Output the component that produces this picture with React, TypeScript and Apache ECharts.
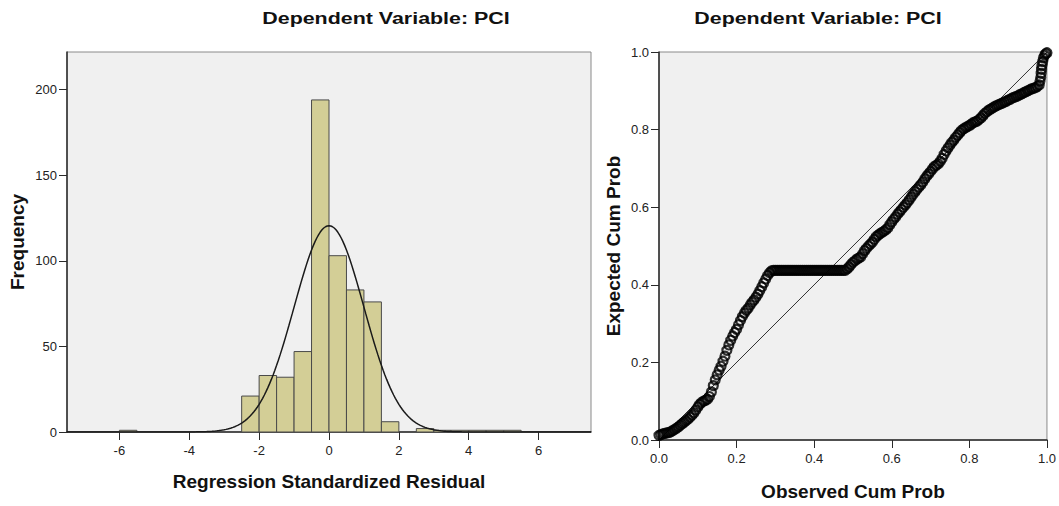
import React, { useEffect, useRef } from "react";
import * as echarts from "echarts";

// ---------- Histogram data ----------
const binStarts = [-6, -2.5, -2, -1.5, -1, -0.5, 0, 0.5, 1, 1.5, 2.5, 3, 3.5, 4, 4.5, 5];
const binCounts = [1, 21, 33, 32, 47, 194, 103, 83, 76, 6, 2, 1, 1, 1, 1, 1];
const binWidth = 0.5;
const normalMean = 0;
const normalStdDev = 0.998;
const normalN = 603;
const histXTicks = [-6, -4, -2, 0, 2, 4, 6];
const histYTicks = [0, 50, 100, 150, 200];

// ---------- P-P plot data: [observed cum prob, expected cum prob] ----------
const ppPoints: [number, number][] = [
  [0.0, 0.012], [0.005, 0.014], [0.01, 0.016], [0.015, 0.017], [0.02, 0.018],
  [0.025, 0.019], [0.03, 0.021], [0.035, 0.024], [0.04, 0.027], [0.045, 0.03],
  [0.05, 0.034], [0.055, 0.038], [0.06, 0.042], [0.065, 0.046], [0.07, 0.05],
  [0.075, 0.054], [0.08, 0.059], [0.085, 0.064], [0.09, 0.07], [0.095, 0.077],
  [0.1, 0.085], [0.105, 0.092], [0.11, 0.097], [0.115, 0.1], [0.12, 0.102],
  [0.125, 0.105], [0.13, 0.112], [0.135, 0.124], [0.14, 0.14], [0.145, 0.155],
  [0.15, 0.168], [0.155, 0.18], [0.16, 0.19], [0.165, 0.203], [0.17, 0.216],
  [0.175, 0.231], [0.18, 0.245], [0.185, 0.257], [0.19, 0.268], [0.195, 0.277],
  [0.2, 0.285], [0.205, 0.297], [0.21, 0.308], [0.215, 0.318], [0.22, 0.327],
  [0.225, 0.334], [0.23, 0.34], [0.235, 0.348], [0.24, 0.355], [0.245, 0.361],
  [0.25, 0.368], [0.255, 0.376], [0.26, 0.385], [0.265, 0.395], [0.27, 0.405],
  [0.275, 0.415], [0.28, 0.424], [0.285, 0.431], [0.29, 0.436], [0.295, 0.437],
  [0.3, 0.437], [0.305, 0.437], [0.31, 0.437], [0.315, 0.437], [0.32, 0.437],
  [0.325, 0.437], [0.33, 0.437], [0.335, 0.437], [0.34, 0.437], [0.345, 0.437],
  [0.35, 0.437], [0.355, 0.437], [0.36, 0.437], [0.365, 0.437], [0.37, 0.437],
  [0.375, 0.437], [0.38, 0.437], [0.385, 0.437], [0.39, 0.437], [0.395, 0.437],
  [0.4, 0.437], [0.405, 0.437], [0.41, 0.437], [0.415, 0.437], [0.42, 0.437],
  [0.425, 0.437], [0.43, 0.437], [0.435, 0.437], [0.44, 0.437], [0.445, 0.437],
  [0.45, 0.437], [0.455, 0.437], [0.46, 0.437], [0.465, 0.437], [0.47, 0.437],
  [0.475, 0.437], [0.48, 0.437], [0.485, 0.441], [0.49, 0.446], [0.495, 0.452],
  [0.5, 0.458], [0.505, 0.462], [0.51, 0.466], [0.515, 0.469], [0.52, 0.472],
  [0.525, 0.48], [0.53, 0.488], [0.535, 0.494], [0.54, 0.5], [0.545, 0.505],
  [0.55, 0.51], [0.555, 0.517], [0.56, 0.524], [0.565, 0.528], [0.57, 0.532],
  [0.575, 0.535], [0.58, 0.538], [0.585, 0.542], [0.59, 0.547], [0.595, 0.555],
  [0.6, 0.562], [0.605, 0.569], [0.61, 0.575], [0.615, 0.582], [0.62, 0.588],
  [0.625, 0.594], [0.63, 0.6], [0.635, 0.606], [0.64, 0.612], [0.645, 0.619],
  [0.65, 0.626], [0.655, 0.633], [0.66, 0.64], [0.665, 0.646], [0.67, 0.652],
  [0.675, 0.658], [0.68, 0.665], [0.685, 0.673], [0.69, 0.68], [0.695, 0.686],
  [0.7, 0.692], [0.705, 0.699], [0.71, 0.705], [0.715, 0.708], [0.72, 0.712],
  [0.725, 0.718], [0.73, 0.726], [0.735, 0.736], [0.74, 0.745], [0.745, 0.753],
  [0.75, 0.76], [0.755, 0.767], [0.76, 0.773], [0.765, 0.78], [0.77, 0.786],
  [0.775, 0.792], [0.78, 0.798], [0.785, 0.802], [0.79, 0.805], [0.795, 0.808],
  [0.8, 0.81], [0.805, 0.814], [0.81, 0.818], [0.815, 0.82], [0.82, 0.822],
  [0.825, 0.826], [0.83, 0.83], [0.835, 0.836], [0.84, 0.842], [0.845, 0.846],
  [0.85, 0.85], [0.855, 0.853], [0.86, 0.856], [0.865, 0.859], [0.87, 0.862],
  [0.875, 0.864], [0.88, 0.866], [0.885, 0.868], [0.89, 0.871], [0.895, 0.873],
  [0.9, 0.876], [0.905, 0.878], [0.91, 0.881], [0.915, 0.883], [0.92, 0.885],
  [0.925, 0.887], [0.93, 0.89], [0.935, 0.892], [0.94, 0.895], [0.945, 0.897],
  [0.95, 0.9], [0.955, 0.902], [0.96, 0.905], [0.965, 0.906], [0.97, 0.908],
  [0.975, 0.911], [0.98, 0.915], [0.982, 0.925], [0.984, 0.935], [0.985, 0.945],
  [0.986, 0.955], [0.987, 0.965], [0.989, 0.975], [0.991, 0.985], [0.994, 0.992],
  [0.997, 0.996], [1.0, 0.998],
];
const ppDiagonal: [number, number][] = [[0, 0], [1, 1]];

const titleText = "Dependent Variable: PCI";
const FONT = "'Liberation Sans', Arial, sans-serif";

export default function App() {
  const ref = useRef<HTMLDivElement>(null);

  useEffect(() => {
    if (!ref.current) return;
    const chart = echarts.init(ref.current, null, { renderer: "svg" });

    const histData = binStarts.map((s, i) => [s, s + binWidth, binCounts[i]]);

    // fitted normal curve overlay: N * binWidth * pdf(x)
    const curve: number[][] = [];
    for (let x = -7.5; x <= 7.5001; x += 0.05) {
      const z = (x - normalMean) / normalStdDev;
      const y = (normalN * binWidth) / (normalStdDev * Math.sqrt(2 * Math.PI)) * Math.exp(-0.5 * z * z);
      curve.push([x, y]);
    }

    const labelStyle = { color: "#222", fontSize: 13, fontFamily: FONT };
    const nameStyle = { color: "#111", fontSize: 19, fontWeight: "bold", fontFamily: FONT };
    const axisLine = { show: true, onZero: false, lineStyle: { color: "#2a2a2a", width: 1.5 } };

    const option: any = {
      animation: false,
      backgroundColor: "#ffffff",
      graphic: [
        {
          type: "text",
          x: 386,
          y: 18,
          scaleX: 1.26,
          style: {
            text: titleText, fill: "#111", font: `bold 17px ${FONT}`,
            align: "center", verticalAlign: "middle",
          },
        },
        {
          type: "text",
          x: 818,
          y: 18,
          scaleX: 1.26,
          style: {
            text: titleText, fill: "#111", font: `bold 17px ${FONT}`,
            align: "center", verticalAlign: "middle",
          },
        },
      ],
      grid: [
        {
          left: 67, top: 52, width: 524, height: 380,
          show: true, backgroundColor: "#f0f0f0", borderColor: "#8a8a8a", borderWidth: 1,
        },
        {
          left: 659, top: 52, width: 392, height: 392,
          show: true, backgroundColor: "#f0f0f0", borderColor: "#8a8a8a", borderWidth: 1,
        },
      ],
      xAxis: [
        {
          type: "value", gridIndex: 0, min: -7.5, max: 7.5,
          axisLine,
          axisTick: { show: true, length: 8, customValues: histXTicks, lineStyle: { color: "#2a2a2a" } },
          axisLabel: { ...labelStyle, margin: 12, customValues: histXTicks },
          splitLine: { show: false },
          name: "Regression Standardized Residual",
          nameLocation: "middle", nameGap: 40, nameTextStyle: nameStyle,
        },
        {
          type: "value", gridIndex: 1, min: 0, max: 1, interval: 0.2,
          axisLine,
          axisTick: { show: true, length: 8, lineStyle: { color: "#2a2a2a" } },
          axisLabel: { ...labelStyle, margin: 12, formatter: (v: number) => v.toFixed(1) },
          splitLine: { show: false },
          name: "Observed Cum Prob",
          nameLocation: "middle", nameGap: 42, nameTextStyle: nameStyle,
        },
      ],
      yAxis: [
        {
          type: "value", gridIndex: 0, min: 0, max: 222,
          axisLine,
          axisTick: { show: true, length: 8, customValues: histYTicks, lineStyle: { color: "#2a2a2a" } },
          axisLabel: { ...labelStyle, margin: 10, customValues: histYTicks },
          splitLine: { show: false },
          name: "Frequency",
          nameLocation: "middle", nameGap: 40, nameTextStyle: nameStyle,
        },
        {
          type: "value", gridIndex: 1, min: 0, max: 1, interval: 0.2,
          axisLine,
          axisTick: { show: true, length: 8, lineStyle: { color: "#2a2a2a" } },
          axisLabel: { ...labelStyle, margin: 10, formatter: (v: number) => v.toFixed(1) },
          splitLine: { show: false },
          name: "Expected Cum Prob",
          nameLocation: "middle", nameGap: 36, nameTextStyle: nameStyle,
        },
      ],
      series: [
        {
          type: "custom",
          xAxisIndex: 0, yAxisIndex: 0,
          data: histData,
          encode: { x: [0, 1], y: 2 },
          renderItem: (params: any, api: any) => {
            const p0 = api.coord([api.value(0), api.value(2)]);
            const p1 = api.coord([api.value(1), 0]);
            return {
              type: "rect",
              shape: { x: p0[0], y: p0[1], width: p1[0] - p0[0], height: p1[1] - p0[1] },
              style: { fill: "#d3ce96", stroke: "#4a4a4a", lineWidth: 1 },
            };
          },
          z: 2,
        },
        {
          type: "line",
          xAxisIndex: 0, yAxisIndex: 0,
          data: curve,
          showSymbol: false,
          lineStyle: { color: "#1a1a1a", width: 1.5 },
          z: 3,
        },
        {
          type: "line",
          xAxisIndex: 1, yAxisIndex: 1,
          data: ppDiagonal,
          showSymbol: false,
          lineStyle: { color: "#333", width: 1 },
          z: 2,
        },
        {
          type: "scatter",
          xAxisIndex: 1, yAxisIndex: 1,
          data: ppPoints,
          symbol: "circle",
          symbolSize: 9,
          itemStyle: { color: "rgba(0,0,0,0)", borderColor: "#000", borderWidth: 2.2 },
          z: 3,
        },
      ],
    };

    chart.setOption(option);
    return () => chart.dispose();
  }, []);

  return (
    <div
      ref={ref}
      style={{ position: "fixed", left: 0, top: 0, width: 1059, height: 506, background: "#fff" }}
    />
  );
}
